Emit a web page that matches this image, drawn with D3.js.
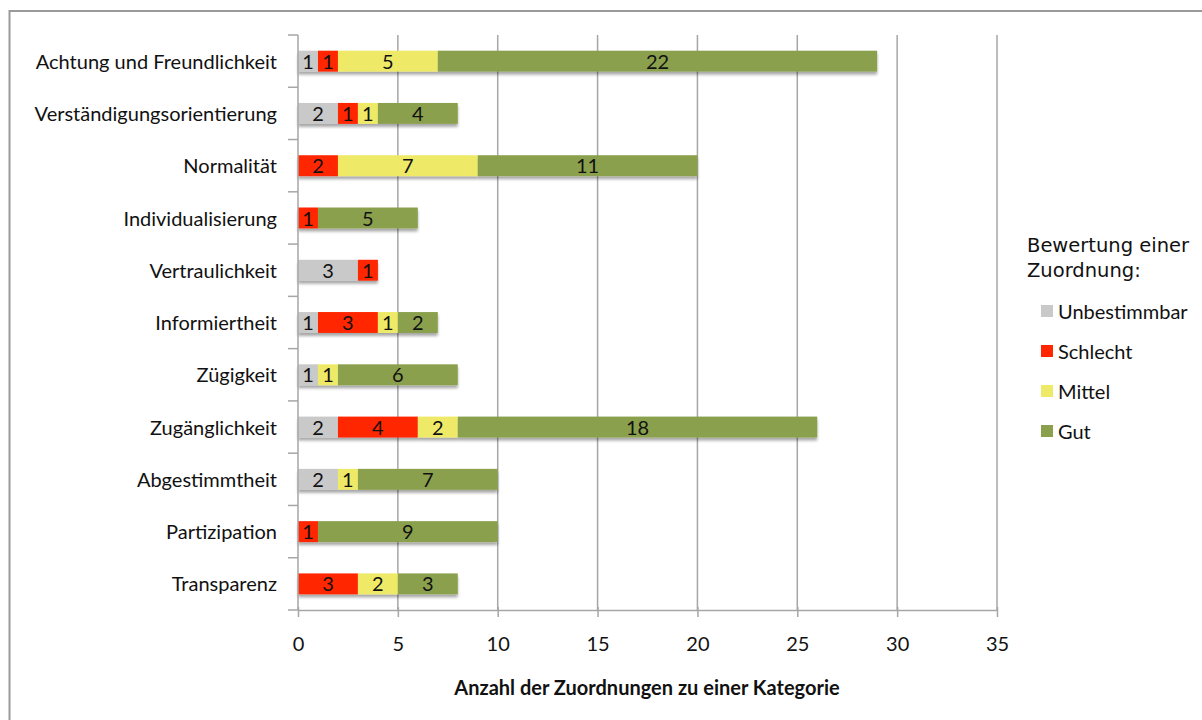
<!DOCTYPE html>
<html>
<head>
<meta charset="utf-8">
<script src="https://cdn.jsdelivr.net/npm/d3@7"></script>
<style>
  html, body { margin: 0; padding: 0; background: #fff; }
  svg { display: block; }
</style>
</head>
<body>
<svg id="chart" width="1202" height="720"></svg>
<script>
// Categories, top to bottom
const categories = [
  "Achtung und Freundlichkeit",
  "Verständigungsorientierung",
  "Normalität",
  "Individualisierung",
  "Vertraulichkeit",
  "Informiertheit",
  "Zügigkeit",
  "Zugänglichkeit",
  "Abgestimmtheit",
  "Partizipation",
  "Transparenz"
];

// Rating series (stacked left to right)
const seriesNames = ["Unbestimmbar", "Schlecht", "Mittel", "Gut"];
const unbestimmbar = [1, 2, 0, 0, 3, 1, 1, 2, 2, 0, 0];
const schlecht     = [1, 1, 2, 1, 1, 3, 0, 4, 0, 1, 3];
const mittel       = [5, 1, 7, 0, 0, 1, 1, 2, 1, 0, 2];
const gut          = [22, 4, 11, 5, 0, 2, 6, 18, 7, 9, 3];

const xTicks = [0, 5, 10, 15, 20, 25, 30, 35];
const colors = ["#c9c9c9", "#ff2600", "#eeea68", "#8aa04d"];

const table = categories.map((c, i) => ({
  category: c,
  Unbestimmbar: unbestimmbar[i],
  Schlecht: schlecht[i],
  Mittel: mittel[i],
  Gut: gut[i]
}));

const svg = d3.select("#chart");
const labelFont = "Lato, 'Open Sans', sans-serif";
const legendFont = "'DejaVu Sans', Verdana, sans-serif";
const fs = 20;

// Outer frame (top and left edges)
svg.append("path")
  .attr("d", "M9.5,720 L9.5,11 L1202,11")
  .attr("fill", "none")
  .attr("stroke", "#9a9a9a")
  .attr("stroke-width", 2);

const plotLeft = 298, plotRight = 997, plotTop = 35, plotBottom = 610;

const x = d3.scaleLinear().domain([0, 35]).range([plotLeft, plotRight]);
const y = d3.scaleBand().domain(categories).range([plotTop, plotBottom]).paddingInner(0.6).paddingOuter(0.3);

// Vertical grid lines
svg.append("g")
  .selectAll("line")
  .data(xTicks.filter(t => t > 0))
  .join("line")
  .attr("x1", d => x(d)).attr("x2", d => x(d))
  .attr("y1", plotTop).attr("y2", plotBottom)
  .attr("stroke", "#a6a6a6")
  .attr("stroke-width", 1.5);

// Drop shadow for bars
const defs = svg.append("defs");
const f = defs.append("filter").attr("id", "shadow")
  .attr("x", "-5%").attr("y", "-20%").attr("width", "110%").attr("height", "160%");
f.append("feGaussianBlur").attr("in", "SourceAlpha").attr("stdDeviation", 1.6).attr("result", "b");
f.append("feOffset").attr("in", "b").attr("dx", 0).attr("dy", 2.5).attr("result", "o");
f.append("feComponentTransfer").attr("in", "o").attr("result", "s")
  .append("feFuncA").attr("type", "linear").attr("slope", 0.35);
const m = f.append("feMerge");
m.append("feMergeNode").attr("in", "s");
m.append("feMergeNode").attr("in", "SourceGraphic");

const stacked = d3.stack().keys(seriesNames)(table);

const barsG = svg.append("g");
categories.forEach((c, i) => {
  const row = barsG.append("g").attr("filter", "url(#shadow)");
  stacked.forEach((s, k) => {
    const d = s[i];
    if (d[1] - d[0] <= 0) return;
    row.append("rect")
      .attr("x", x(d[0]))
      .attr("y", y(c))
      .attr("width", x(d[1]) - x(d[0]))
      .attr("height", y.bandwidth())
      .attr("fill", colors[k]);
  });
});

// Segment value labels
const labelsG = svg.append("g");
stacked.forEach((s, k) => {
  s.forEach((d, i) => {
    const v = d[1] - d[0];
    if (v <= 0) return;
    labelsG.append("text")
      .attr("x", (x(d[0]) + x(d[1])) / 2)
      .attr("y", y(categories[i]) + y.bandwidth() / 2)
      .attr("dy", "0.38em")
      .attr("text-anchor", "middle")
      .attr("font-family", labelFont)
      .attr("font-size", fs)
      .attr("fill", "#111")
      .text(v);
  });
});

// Y axis
const yAxisG = svg.append("g");
yAxisG.append("line")
  .attr("x1", plotLeft).attr("x2", plotLeft).attr("y1", plotTop).attr("y2", plotBottom)
  .attr("stroke", "#a6a6a6").attr("stroke-width", 1.5);
const step = (plotBottom - plotTop) / categories.length;
d3.range(categories.length + 1).forEach(j => {
  yAxisG.append("line")
    .attr("x1", plotLeft - 10).attr("x2", plotLeft)
    .attr("y1", plotTop + j * step).attr("y2", plotTop + j * step)
    .attr("stroke", "#a6a6a6").attr("stroke-width", 1.5);
});
categories.forEach(c => {
  yAxisG.append("text")
    .attr("x", plotLeft - 21)
    .attr("y", y(c) + y.bandwidth() / 2)
    .attr("dy", "0.38em")
    .attr("text-anchor", "end")
    .attr("font-family", labelFont)
    .attr("font-size", fs)
    .attr("fill", "#111")
    .text(c);
});

// X axis
const xAxis = d3.axisBottom(x).tickValues(xTicks).tickSize(7).tickPadding(20).tickSizeOuter(0);
const xg = svg.append("g").attr("transform", `translate(0,${plotBottom})`).call(xAxis);
xg.select(".domain").attr("stroke", "#a6a6a6").attr("stroke-width", 1.5);
xg.selectAll(".tick line").attr("stroke", "#a6a6a6").attr("stroke-width", 1.5).attr("y1", -3);
xg.selectAll(".tick text")
  .attr("font-family", labelFont)
  .attr("font-size", fs)
  .attr("fill", "#111");

svg.append("text")
  .attr("x", 647).attr("y", 695)
  .attr("text-anchor", "middle")
  .attr("font-family", labelFont)
  .attr("font-size", fs)
  .attr("font-weight", "bold")
  .attr("fill", "#111")
  .text("Anzahl der Zuordnungen zu einer Kategorie");

// Legend
const lg = svg.append("g");
lg.append("text")
  .attr("x", 1027).attr("y", 252)
  .attr("font-family", legendFont).attr("font-size", 19.5).attr("fill", "#111")
  .text("Bewertung einer");
lg.append("text")
  .attr("x", 1027).attr("y", 277)
  .attr("font-family", legendFont).attr("font-size", 19.5).attr("fill", "#111")
  .text("Zuordnung:");
const legendY = [311, 351, 391, 431];
seriesNames.forEach((n, k) => {
  lg.append("rect")
    .attr("x", 1041).attr("y", legendY[k] - 6)
    .attr("width", 12).attr("height", 12)
    .attr("fill", colors[k]);
  lg.append("text")
    .attr("x", 1058).attr("y", legendY[k])
    .attr("dy", "0.38em")
    .attr("font-family", labelFont).attr("font-size", fs).attr("fill", "#111")
    .text(n);
});
</script>
</body>
</html>
